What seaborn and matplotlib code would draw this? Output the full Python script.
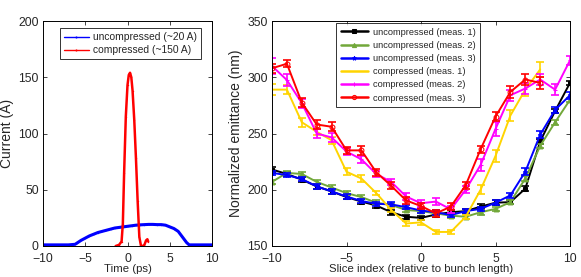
import numpy as np
import pandas as pd
import matplotlib
matplotlib.use("Agg")
import matplotlib.pyplot as plt
import seaborn as sns

# ---------------- data: left panel (current profiles) ----------------
t_uncomp = [-10, -9, -8, -7, -6.2, -6, -5.5, -5, -4.5, -4, -3.5, -3, -2.5, -2, -1.5, -1,
            -0.5, 0, 0.5, 1, 1.5, 2, 2.5, 3, 3.5, 4, 4.5, 5, 5.5, 6, 6.5, 7, 7.3, 8, 9, 10]
i_uncomp = [1, 1, 1, 1, 1.5, 2.5, 5, 7, 9, 10.5, 12, 13, 14, 15, 16, 16.5,
            17, 17.5, 18, 18.5, 18.8, 19, 19.2, 19.2, 19, 19, 18.5, 17, 15.5, 13, 8, 3, 1, 1, 1, 1]
t_comp = [-1.4, -1.0, -0.7, -0.55, -0.4, -0.2, 0.0, 0.15, 0.3, 0.45, 0.6, 0.8, 1.0, 1.2,
          1.4, 1.6, 1.8, 2.0, 2.2, 2.35, 2.45]
i_comp = [0, 1, 4, 20, 65, 115, 143, 152, 154, 150, 138, 112, 78, 40, 8, 0, 0, 1, 5, 6, 4]

# ---------------- data: right panel (slice emittance) ----------------
slices = list(range(-10, 11))
slices_short = list(range(-10, 9))
unc1 = [218, 214, 209, 203, 198.5, 193.5, 189.5, 186, 180, 176, 175, 178, 180, 181, 185, 188.5, 189, 201, 243, 270, 295]
unc1_err = [2] * 21
unc2 = [207, 215, 214, 207, 202, 197, 193.5, 188.5, 186.5, 182, 181, 179, 177, 176, 180, 183, 189, 210, 239, 260, 280]
unc2_err = [2] * 21
unc3 = [215, 213, 209.5, 203, 198.5, 194, 190, 187.5, 187, 184.5, 181.5, 180, 177.5, 181, 183, 188.5, 195, 216, 249, 271, 284]
unc3_err = [2] * 14 + [2, 2, 2, 3, 3, 3, 3]
comp1 = [289, 289, 260, 251.5, 244, 216, 210, 197, 182, 170, 171, 162.5, 162.5, 176, 200, 230, 266, 289, 307]
comp1_err = [5, 4, 4, 3, 3, 3, 3, 2, 2, 2, 2, 2, 2, 2, 4, 5, 5, 6, 7]
comp2 = [310, 297.5, 277, 250, 246.5, 234, 227, 214, 207, 194, 188, 189.5, 182.6, 200, 222, 254, 284, 290, 298, 289, 315]
comp2_err = [7, 5, 4, 4, 4, 3, 3, 3, 3, 3, 3, 3, 3, 3, 5, 6, 5, 5, 5, 5, 4]
comp3 = [308, 312, 277.5, 258, 256, 235, 235, 215.5, 203.5, 190.5, 185.5, 179, 185, 204, 236, 265, 287, 298, 295]
comp3_err = [4, 3, 4, 4, 4, 3, 4, 3, 3, 3, 3, 3, 3, 3, 3, 4, 5, 5, 5]

sns.set_theme(style="ticks")
plt.rcParams['font.family'] = ['Liberation Sans', 'DejaVu Sans']
plt.rcParams.update({
    'axes.edgecolor': 'black', 'axes.linewidth': 0.7,
    'xtick.direction': 'in', 'ytick.direction': 'in',
    'xtick.top': True, 'ytick.right': True,
    'xtick.major.size': 3, 'ytick.major.size': 3,
    'xtick.major.width': 0.6, 'ytick.major.width': 0.6,
    'xtick.major.pad': 5, 'ytick.major.pad': 3,
    'xtick.labelsize': 8.8, 'ytick.labelsize': 8.8,
    'axes.labelsize': 8.2,
})
ylab_font = dict(size=10)

fig = plt.figure(figsize=(5.81, 2.77), dpi=100)
W, H = 581, 277
ax1 = fig.add_axes([43 / W, (H - 246) / H, 169 / W, 225 / H])
ax2 = fig.add_axes([272 / W, (H - 246) / H, 298 / W, 225 / H])

# ---- left panel ----
sns.lineplot(x=t_uncomp, y=i_uncomp, ax=ax1, color='#0000FF', lw=2.2, marker='.', ms=2,
             markeredgewidth=0, label='uncompressed (~20 A)', sort=False, errorbar=None)
sns.lineplot(x=t_comp, y=i_comp, ax=ax1, color='#FF0000', lw=1.8, marker='.', ms=2,
             markeredgewidth=0, label='compressed (~150 A)', sort=False, errorbar=None)
ax1.set_xlim(-10, 10)
ax1.set_ylim(0, 200)
ax1.set_xticks([-10, -5, 0, 5, 10])
ax1.set_yticks([0, 50, 100, 150, 200])
ax1.set_xlabel('Time (ps)', labelpad=-1)
ax1.set_ylabel('Current (A)', labelpad=3, fontdict=ylab_font)
leg1 = ax1.legend(loc='upper right', bbox_to_anchor=((201 - 43) / 169, (246 - 28) / 225),
                  borderaxespad=0, fontsize=7.4, frameon=True, fancybox=False,
                  handlelength=2.4, labelspacing=0.3, borderpad=0.4, handletextpad=0.4)
leg1.get_frame().set_edgecolor('black')
leg1.get_frame().set_linewidth(0.7)
for h in leg1.get_lines():
    h.set_linewidth(1.0)
    h.set_markersize(3)

# ---- right panel ----
series = [
    (slices, unc1, unc1_err, 'black', 's', 'uncompressed (meas. 1)'),
    (slices, unc2, unc2_err, '#72A83A', '^', 'uncompressed (meas. 2)'),
    (slices, unc3, unc3_err, '#0000FF', '*', 'uncompressed (meas. 3)'),
    (slices_short, comp1, comp1_err, '#FFD400', None, 'compressed (meas. 1)'),
    (slices, comp2, comp2_err, '#FF00FF', '+', 'compressed (meas. 2)'),
    (slices_short, comp3, comp3_err, '#FF0000', 'o', 'compressed (meas. 3)'),
]
for xs, ys, es, col, mk, lab in series:
    kw = dict(marker=mk, ms=3.5, markeredgecolor=col,
              markerfacecolor=('none' if mk == 'o' else col)) if mk else {}
    sns.lineplot(x=xs, y=ys, ax=ax2, color=col, lw=1.4, label=lab, errorbar=None, **kw)
    ax2.errorbar(xs, ys, yerr=es, fmt='none', ecolor=col, elinewidth=1.2,
                 capsize=2.8, capthick=1.2)

ax2.set_xlim(-10, 10)
ax2.set_ylim(150, 350)
ax2.set_xticks([-10, -5, 0, 5, 10])
ax2.set_yticks([150, 200, 250, 300, 350])
ax2.set_xlabel('Slice index (relative to bunch length)', labelpad=-1)
ax2.set_ylabel('Normalized emittance (nm)', labelpad=3, fontdict=ylab_font)
leg2 = ax2.legend(loc='upper right', bbox_to_anchor=((480 - 272) / 298, (246 - 23) / 225),
                  borderaxespad=0, fontsize=6.7, frameon=True, fancybox=False,
                  handlelength=2.9, labelspacing=0.45, borderpad=0.5, handletextpad=0.5)
leg2.get_frame().set_edgecolor('black')
leg2.get_frame().set_linewidth(0.7)
for h in leg2.get_lines():
    h.set_linewidth(1.8)
    h.set_markersize(3)

fig.savefig('out.png', dpi=100)
